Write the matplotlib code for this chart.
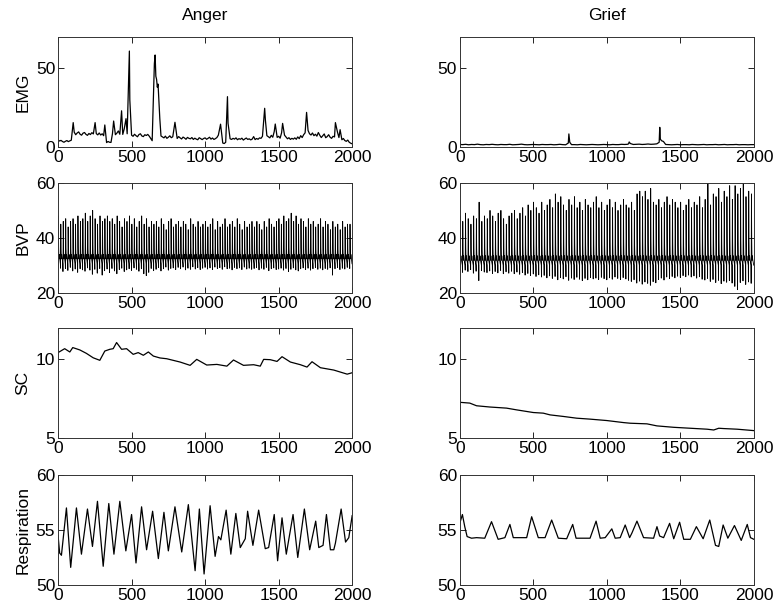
import numpy as np
import matplotlib
matplotlib.use("Agg")
import matplotlib.pyplot as plt

plt.rcParams['font.family'] = ['Liberation Sans', 'DejaVu Sans']
plt.rcParams['font.size'] = 12.5

columns = ['Anger', 'Grief']
row_labels = ['EMG', 'BVP', 'SC', 'Respiration']
x_ticks = [0, 500, 1000, 1500, 2000]
y_limits = [(0, 70), (20, 60), (5, 12), (50, 60)]
y_ticks = [[0, 50], [20, 40, 60], [5, 10], [50, 55, 60]]

# ---- EMG ----
# anger baseline, one value every 10 samples (0..2000)
emg_anger_base = [
    4.5, 3.8, 4.2, 3.5, 3.0, 3.6, 4.1, 3.4, 3.9, 4.3,
    8.2, 9.4, 7.8, 8.9, 9.6, 8.1, 7.5, 8.8, 9.2, 8.0,
    7.4, 8.6, 7.9, 9.1, 8.3, 9.8, 8.5, 7.7, 8.9, 7.6,
    8.4, 7.2, 3.2, 2.8, 3.5, 3.0, 2.9, 8.5, 9.3, 7.8,
    8.8, 10.2, 8.1, 9.5, 8.0, 11.5, 9.0, 8.4, 9.6, 7.9,
    7.5, 6.8, 8.1, 7.2, 6.5, 7.9, 8.4, 7.0, 6.6, 7.8,
    7.3, 8.0, 6.9, 5.5, 4.0, 3.2, 7.5, 9.0, 10.5, 8.0,
    7.0, 6.4, 5.8, 6.9, 5.5, 6.2, 7.1, 5.9, 6.5, 7.4,
    6.0, 5.4, 6.6, 5.8, 5.1, 6.3, 5.7, 4.9, 6.1, 5.5,
    5.2, 6.0, 4.8, 5.6, 5.0, 4.6, 5.9, 5.3, 4.7, 5.4,
    5.8, 4.9, 5.5, 6.2, 5.0, 5.7, 4.8, 5.3, 6.0, 7.5,
    9.0, 4.0, 2.5, 2.2, 3.0, 5.6, 6.1, 5.2, 4.8, 5.5,
    5.0, 5.8, 4.6, 5.3, 4.9, 5.6, 4.4, 5.1, 5.7, 4.8,
    5.2, 4.5, 5.0, 6.6, 4.7, 5.4, 4.9, 5.8, 5.5, 6.8,
    12.0, 9.5, 7.2, 6.5, 5.8, 7.4, 6.2, 9.8, 7.0, 6.1,
    6.8, 5.6, 9.0, 11.0, 7.5, 6.4, 5.2, 5.9, 4.8, 5.5,
    5.0, 5.8, 4.9, 6.4, 5.3, 7.2, 6.0, 7.8, 9.0, 14.0,
    10.5, 8.4, 7.6, 8.9, 7.2, 8.1, 6.9, 9.2, 7.4, 6.0,
    7.1, 8.3, 5.9, 6.6, 7.8, 6.2, 5.5, 6.8, 6.4, 8.5,
    9.5, 6.0, 5.2, 4.6, 5.4, 4.1, 3.6, 4.4, 3.0, 2.4,
    2.0]
emg_anger_spike_x = [103, 252, 318, 378, 432, 462, 485, 488, 655, 660, 665,
                     670, 675, 680, 686, 692, 795, 1105, 1152, 1156, 1405,
                     1410, 1477, 1527, 1690, 1886, 1918]
emg_anger_spike_y = [15.5, 15.5, 14.0, 16.5, 23.0, 18.0, 61.0, 30.0, 53.0,
                     58.5, 45.0, 43.0, 38.0, 40.0, 29.0, 18.0, 15.7, 14.5,
                     32.0, 15.0, 24.6, 17.0, 14.6, 15.0, 22.0, 15.5, 11.0]

# grief baseline, one value every 20 samples (0..2000)
emg_grief_base = [
    1.6, 1.5, 1.7, 1.4, 1.6, 1.5, 1.8, 1.5, 1.4, 1.6,
    1.5, 1.7, 1.5, 1.4, 1.6, 1.5, 1.5, 1.7, 1.4, 1.5,
    1.6, 1.8, 1.5, 1.4, 1.5, 1.6, 1.5, 1.4, 1.6, 1.5,
    1.5, 1.6, 1.4, 1.5, 1.7, 1.5, 1.4, 1.6, 1.5, 1.5,
    1.4, 1.6, 1.5, 1.4, 1.5, 1.6, 1.5, 1.4, 1.5, 1.6,
    1.5, 1.4, 1.6, 1.5, 1.5, 1.7, 1.6, 1.7, 1.5, 1.6,
    1.7, 1.8, 1.6, 1.7, 1.9, 1.7, 1.8, 2.0, 3.0, 2.2,
    1.6, 1.5, 1.4, 1.5, 1.6, 1.4, 1.5, 1.5, 1.4, 1.6,
    1.5, 1.4, 1.5, 1.6, 1.4, 1.5, 1.5, 1.6, 1.4, 1.5,
    1.6, 1.4, 1.5, 1.5, 1.6, 1.4, 1.5, 1.5, 1.4, 1.5,
    1.5]
emg_grief_spike_x = [738, 742, 748, 1148, 1152, 1160, 1356, 1360, 1364, 1372, 1385]
emg_grief_spike_y = [2.5, 8.3, 3.0, 2.0, 3.2, 2.2, 3.0, 12.5, 5.0, 4.0, 3.5]

# ---- BVP: one peak and one trough per heart beat ----
bvp_anger_peaks = [
    48, 45, 46, 47, 44, 46, 47, 45, 48, 46,
    47, 49, 46, 48, 50, 47, 45, 48, 46, 47,
    48, 46, 47, 45, 48, 46, 44, 47, 46, 48,
    45, 47, 44, 46, 48, 45, 47, 44, 46, 45,
    46, 44, 47, 45, 43, 46, 47, 44, 45, 46,
    44, 46, 45, 43, 47, 45, 44, 46, 44, 45,
    46, 44, 45, 47, 43, 46, 44, 45, 47, 44,
    45, 46, 44, 47, 45, 43, 46, 44, 45, 46,
    44, 46, 45, 43, 46, 44, 47, 45, 44, 46,
    47, 45, 48, 46, 47, 49, 46, 48, 45, 47,
    46, 44, 47, 45, 46, 44, 45, 47, 44, 46,
    45, 43, 46, 44, 45, 43, 46, 44, 45, 45]
bvp_anger_troughs = [
    28.5, 29.0, 27.8, 28.9, 28.2, 29.3, 28.0, 28.7, 27.5, 28.8,
    28.4, 27.9, 29.1, 28.3, 26.8, 28.6, 27.2, 28.9, 26.5, 28.1,
    28.7, 27.4, 28.9, 28.0, 27.0, 28.5, 29.0, 27.8, 28.4, 28.8,
    28.2, 29.1, 28.6, 27.9, 28.8, 27.0, 26.3, 27.5, 28.9, 28.1,
    28.6, 29.2, 28.0, 28.8, 29.4, 28.3, 28.9, 29.1, 28.5, 29.3,
    28.8, 29.4, 28.4, 29.0, 28.6, 29.5, 28.7, 29.2, 28.5, 29.0,
    29.3, 28.7, 29.1, 28.5, 29.4, 28.9, 29.2, 28.6, 29.5, 28.8,
    29.0, 28.4, 29.3, 28.8, 29.1, 28.5, 29.4, 28.7, 29.0, 28.6,
    28.9, 29.2, 28.4, 29.0, 28.6, 29.3, 28.1, 28.8, 29.1, 28.5,
    28.7, 29.0, 28.3, 28.9, 27.8, 28.6, 29.1, 28.4, 28.0, 28.8,
    29.1, 28.5, 29.0, 28.3, 28.8, 29.2, 28.6, 29.0, 28.4, 28.9,
    28.6, 29.1, 26.5, 28.8, 29.2, 28.5, 29.0, 28.7, 29.3, 28.9]
bvp_grief_peaks = [
    48, 46, 49, 47, 45, 48, 47, 53, 46, 48,
    47, 50, 48, 46, 49, 50, 47, 45, 48, 49,
    50, 47, 49, 51, 48, 52, 50, 53, 51, 49,
    53, 50, 52, 54, 51, 56, 53, 55, 52, 50,
    54, 52, 55, 51, 53, 50, 54, 52, 51, 53,
    55, 51, 53, 50, 52, 54, 51, 53, 50, 52,
    54, 52, 51, 53, 50, 56, 57, 55, 57, 54,
    58, 53, 52, 54, 51, 53, 55, 52, 54, 53,
    51, 53, 50, 52, 54, 51, 53, 52, 55, 51,
    54, 60, 52, 56, 55, 58, 53, 57, 55, 59,
    54, 59, 56, 58, 60, 55, 57, 56]
bvp_grief_troughs = [
    28.0, 27.5, 28.3, 27.8, 28.5, 27.2, 27.9, 24.5, 28.1, 27.6,
    27.4, 28.0, 27.1, 27.8, 27.3, 28.2, 27.0, 27.7, 27.2, 27.9,
    27.0, 27.6, 26.8, 27.4, 26.5, 27.1, 26.3, 26.9, 26.0, 26.6,
    25.8, 26.4, 25.5, 26.2, 25.3, 26.0, 24.8, 25.6, 25.1, 25.9,
    24.6, 25.4, 24.9, 25.7, 25.0, 24.5, 25.3, 24.8, 25.6, 25.1,
    25.4, 24.9, 25.7, 25.2, 24.8, 25.5, 25.0, 25.8, 25.3, 24.9,
    25.6, 25.1, 24.6, 24.2, 24.8, 23.6, 24.3, 23.2, 24.0, 23.5,
    22.8, 24.1, 23.7, 24.9, 25.4, 24.7, 25.8, 25.2, 26.0, 25.5,
    26.1, 25.6, 26.3, 25.9, 26.5, 25.8, 26.2, 25.4, 25.9, 25.0,
    24.7, 25.3, 24.2, 24.9, 23.8, 24.6, 23.4, 24.3, 23.9, 24.5,
    23.6, 22.4, 21.2, 23.8, 24.4, 23.1, 24.0, 23.5]
bvp_notch_level = [32.0, 31.5]

# ---- SC ----
sc_anger_x = [0, 45, 80, 100, 148, 193, 239, 284, 318, 352, 375, 398, 432,
              466, 511, 545, 580, 614, 648, 693, 739, 830, 898, 943, 1011,
              1080, 1148, 1193, 1261, 1330, 1375, 1398, 1443, 1489, 1523,
              1580, 1648, 1693, 1727, 1784, 1875, 1966, 2000]
sc_anger_y = [10.43, 10.68, 10.47, 10.75, 10.6, 10.38, 10.1, 9.94, 10.53,
              10.64, 10.68, 11.07, 10.64, 10.68, 10.32, 10.43, 10.26, 10.47,
              10.21, 10.09, 10.04, 9.83, 9.62, 10.0, 9.64, 9.68, 9.57, 9.96,
              9.62, 9.66, 9.57, 10.0, 9.98, 9.87, 10.17, 9.83, 9.66, 9.51,
              9.85, 9.47, 9.32, 9.06, 9.15]
sc_grief_x = [0, 68, 114, 205, 318, 386, 500, 568, 614, 705, 795, 886, 1000,
              1114, 1159, 1273, 1341, 1455, 1568, 1682, 1727, 1761, 1795,
              1886, 2000]
sc_grief_y = [7.27, 7.22, 7.05, 6.97, 6.9, 6.79, 6.62, 6.58, 6.47, 6.37,
              6.26, 6.2, 6.11, 5.98, 5.94, 5.9, 5.77, 5.68, 5.62, 5.56, 5.51,
              5.62, 5.6, 5.56, 5.47]

# ---- Respiration ----
resp_anger_x = [0, 11, 23, 57, 86, 125, 159, 200, 234, 268, 307, 345, 380,
                420, 461, 500, 530, 568, 602, 643, 682, 720, 750, 795, 841,
                886, 932, 961, 993, 1034, 1068, 1091, 1107, 1143, 1175, 1209,
                1239, 1273, 1289, 1325, 1364, 1409, 1432, 1470, 1493, 1523,
                1552, 1598, 1630, 1675, 1711, 1752, 1773, 1802, 1825, 1852,
                1875, 1886, 1925, 1955, 1977, 2000]
resp_anger_y = [54.5, 52.9, 52.7, 57.0, 51.6, 57.0, 52.8, 56.9, 53.5, 57.6,
                51.7, 57.4, 52.8, 57.6, 53.1, 56.4, 52.0, 57.1, 53.2, 56.7,
                52.4, 56.6, 53.1, 57.1, 53.0, 57.3, 51.3, 56.9, 51.0, 57.2,
                52.6, 54.4, 54.1, 56.8, 52.8, 56.5, 53.4, 54.2, 56.7, 53.6,
                56.8, 53.3, 53.4, 56.4, 52.2, 56.1, 52.8, 56.4, 52.5, 56.9,
                53.2, 55.8, 53.4, 53.6, 56.4, 53.2, 53.2, 53.8, 56.9, 53.9,
                54.3, 56.3]
resp_grief_x = [0, 18, 34, 50, 80, 114, 170, 216, 261, 307, 341, 364, 455,
                489, 534, 580, 625, 670, 727, 768, 791, 886, 927, 955, 989,
                1034, 1057, 1091, 1125, 1155, 1170, 1205, 1250, 1318, 1341,
                1359, 1386, 1427, 1455, 1495, 1523, 1568, 1609, 1655, 1700,
                1739, 1761, 1791, 1823, 1868, 1914, 1955, 1977, 2000]
resp_grief_y = [55.6, 56.4, 55.3, 54.4, 54.25, 54.3, 54.25, 55.75, 54.15,
                54.3, 55.5, 54.3, 54.3, 56.2, 54.3, 54.3, 55.9, 54.25, 54.2,
                55.5, 54.25, 54.25, 55.8, 54.25, 54.3, 55.1, 54.25, 54.3,
                55.45, 54.3, 54.7, 55.8, 54.3, 54.25, 55.3, 54.45, 54.3, 55.6,
                54.2, 55.7, 54.15, 54.15, 55.3, 54.2, 55.9, 53.6, 53.5, 55.45,
                54.25, 55.4, 54.05, 55.5, 54.3, 54.15]


def emg_series(base, step, spike_x, spike_y):
    bx = np.arange(len(base)) * step
    by = np.asarray(base, dtype=float)
    sx = np.asarray(spike_x, dtype=float)
    # leave out baseline samples that fall inside a burst
    keep = np.min(np.abs(bx[:, None] - sx[None, :]), axis=1) > 5
    x = np.concatenate([bx[keep], sx])
    y = np.concatenate([by[keep], spike_y])
    order = np.argsort(x, kind='stable')
    return x[order], y[order]


def bvp_series(peaks, troughs, notch, n_samples=2000):
    # each beat: trough, sharp upstroke, fall to the dicrotic notch, slow decay
    n = len(peaks)
    onsets = np.linspace(0, n_samples, n + 1)
    xs, ys = [], []
    for i in range(n):
        t0, t1 = onsets[i], onsets[i + 1]
        p = peaks[i]
        xs += [t0, t0 + 2, t0 + 4, t0 + 6, t0 + 8, t0 + 11, t1 - 1]
        ys += [troughs[i], p, notch + 0.3 * (p - notch), notch + 0.4,
               notch + 2.0, notch + 0.6, notch - 1.4]
    return np.array(xs), np.array(ys)


series = [
    [emg_series(emg_anger_base, 10, emg_anger_spike_x, emg_anger_spike_y),
     emg_series(emg_grief_base, 20, emg_grief_spike_x, emg_grief_spike_y)],
    [bvp_series(bvp_anger_peaks, bvp_anger_troughs, bvp_notch_level[0]),
     bvp_series(bvp_grief_peaks, bvp_grief_troughs, bvp_notch_level[1])],
    [(sc_anger_x, sc_anger_y), (sc_grief_x, sc_grief_y)],
    [(resp_anger_x, resp_anger_y), (resp_grief_x, resp_grief_y)],
]

fig = plt.figure(figsize=(7.74, 6.15), dpi=100)
lefts = [0.075, 0.594]
bottoms = [0.761, 0.5236, 0.2878, 0.0488]
w, h = 0.380, 0.179

for r in range(4):
    for c in range(2):
        ax = fig.add_axes([lefts[c], bottoms[r], w, h])
        x, y = series[r][c]
        lw = 0.6 if r == 1 else 0.9
        ax.plot(x, y, color='black', lw=lw)
        ax.set_xlim(0, 2000)
        ax.set_ylim(*y_limits[r])
        ax.set_xticks(x_ticks)
        ax.set_yticks(y_ticks[r])
        ax.tick_params(direction='in', top=True, right=True, length=4,
                       width=0.6, pad=2)
        for s in ax.spines.values():
            s.set_linewidth(0.7)
            s.set_color('#333333')
        if c == 0:
            ax.set_ylabel(row_labels[r], labelpad=4)
        if r == 0:
            ax.set_title(columns[c], pad=12, fontsize=12.5)

fig.savefig('out.png', dpi=100)
